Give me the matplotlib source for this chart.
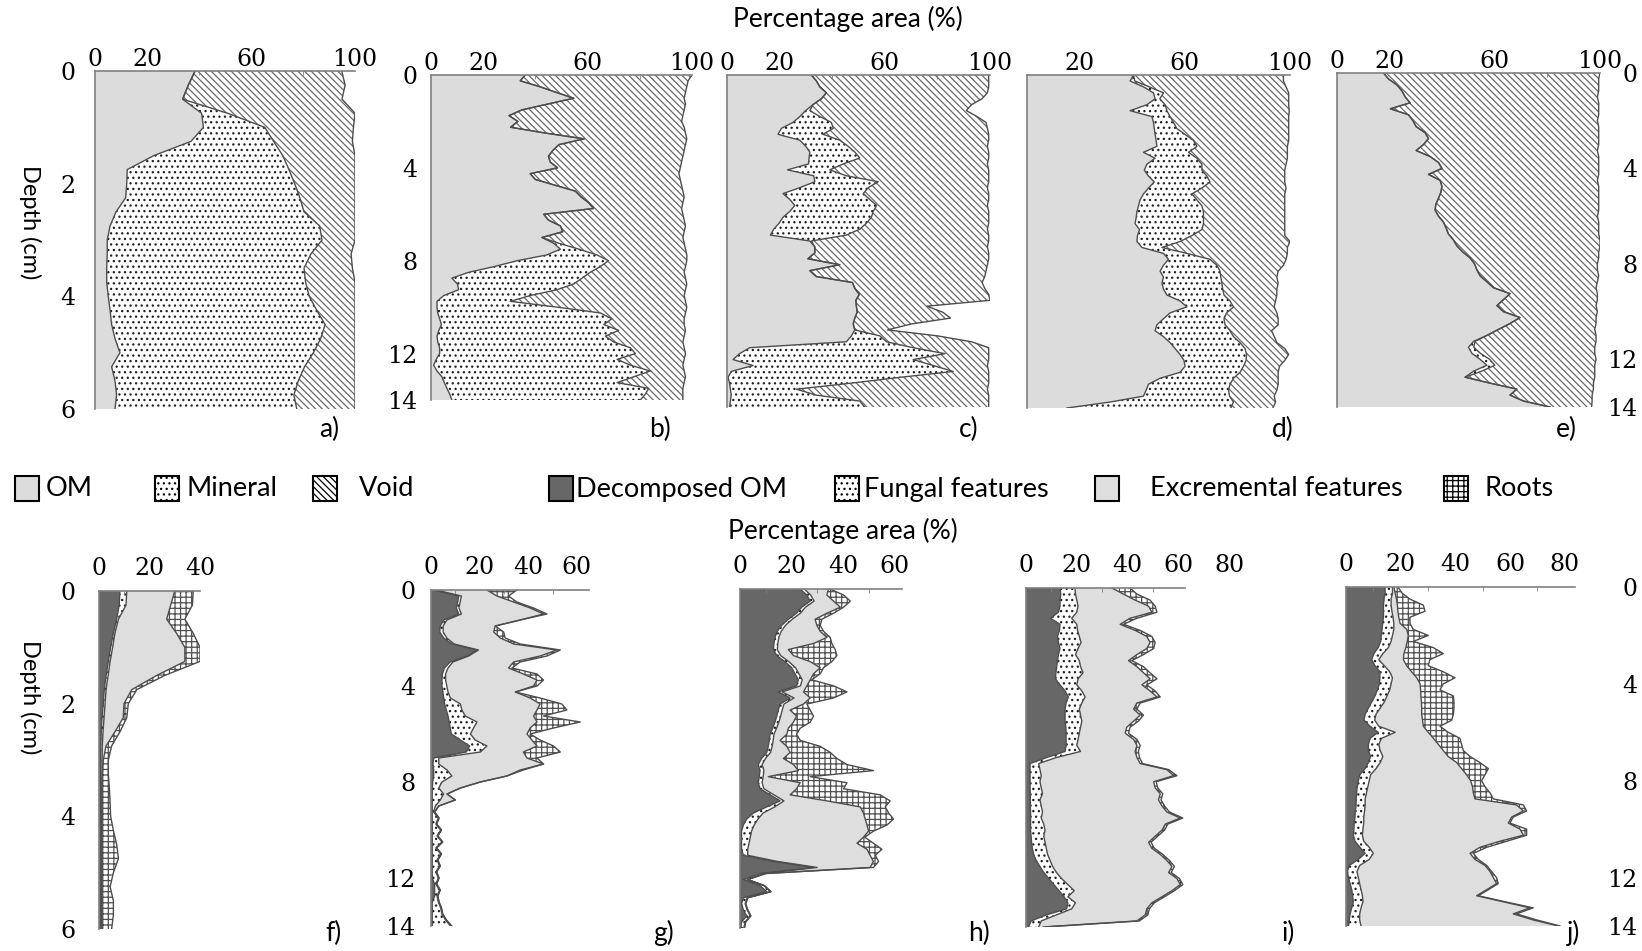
import numpy as np
import matplotlib.pyplot as plt
from matplotlib.patches import Rectangle

plt.rcParams['font.family'] = ['Lato', 'DejaVu Sans']
plt.rcParams['hatch.linewidth'] = 0.9

W, H = 1642, 951
NUM = 'DejaVu Serif'
LINE = '#4d4d4d'

# sampling depth (cm)
depth_6 = np.arange(0, 6.01, 0.25)
depth_14 = np.arange(0, 14.01, 0.25)

# ---------------- top row: cumulative right edge of OM, Mineral, Void (%)
a_om = [38.5, 35.9, 33.7, 41.0, 41.7, 36.9, 22.7, 12.4, 12.2, 11.8, 8.1, 5.8, 4.7, 4.7, 4.5,
        4.5, 5.1, 5.8, 6.4, 7.7, 9.6, 6.4, 7.7, 8.3, 7.7]
a_mineral = [38.5, 35.9, 33.7, 51.0, 65.3, 68.7, 72.2, 74.6, 76.8, 78.8, 80.4, 86.4, 87.3, 83.0,
             80.4, 81.0, 82.4, 85.3, 88.5, 86.8, 84.0, 80.6, 78.2, 76.5, 77.6]
a_void = [94.9, 96.2, 95.0, 100, 99.4, 99.0, 100, 100, 100, 100, 100, 100, 100, 98.5, 99.0,
          100, 100, 100, 100, 100, 100, 100, 100, 100, 100]

b_om = [36.1, 34.2, 41.6, 48.0, 54.7, 44.8, 34.9, 29.9, 33.3, 30.5, 43.8, 58.7, 49.0, 46.7, 45.0,
        45.7, 48.5, 38.0, 40.0, 47.6, 55.3, 57.5, 60.4, 62.3, 43.2, 45.0, 49.6, 50.5, 42.5, 47.0,
        49.6, 44.4, 33.0, 24.3, 14.4, 8.0, 10.1, 10.6, 4.9, 2.3, 2.3, 2.6, 3.3, 4.0, 3.0, 2.3,
        2.6, 3.3, 3.3, 2.0, 1.0, 2.3, 4.2, 5.1, 6.1, 7.2, 8.0]
b_mineral = [36.1, 34.2, 41.6, 48.0, 54.7, 44.8, 34.9, 29.9, 33.3, 30.5, 43.8, 58.7, 49.0, 46.7,
             45.0, 45.7, 48.5, 38.0, 40.0, 47.6, 55.3, 57.5, 60.4, 62.3, 43.2, 45.0, 49.6, 50.5,
             42.5, 49.0, 56.6, 63.6, 68.0, 64.9, 61.0, 57.9, 54.7, 48.3, 38.0, 30.4, 48.3, 64.9,
             69.3, 66.2, 71.9, 66.8, 70.0, 76.4, 78.3, 71.3, 76.4, 84.0, 77.7, 71.3, 83.4, 82.1, 80.2]
b_void = [100, 98.5, 98.0, 97.5, 97.0, 97.5, 97.0, 96.5, 96.0, 97.0, 97.5, 98.0, 97.5, 97.0, 96.5,
          96.0, 95.5, 95.0, 95.5, 96.0, 96.5, 97.0, 96.5, 96.0, 96.5, 97.0, 97.5, 97.0, 96.5, 97.0,
          97.5, 98.0, 98.0, 97.5, 97.0, 97.5, 98.0, 97.5, 97.0, 97.5, 98.0, 97.5, 97.0, 97.0, 97.5,
          97.0, 96.5, 97.0, 97.5, 97.0, 96.5, 97.0, 97.5, 97.0, 96.5, 96.5, 96.5]

c_om = [32.1, 34.0, 35.3, 37.8, 35.9, 32.7, 29.9, 27.7, 25.1, 20.7, 19.4, 27.7, 29.9, 31.5, 31.2,
        31.0, 23.0, 33.0, 33.4, 27.7, 21.3, 23.9, 25.8, 23.9, 21.3, 19.8, 17.8, 16.5, 31.5, 33.4,
        33.4, 30.8, 42.9, 31.5, 34.0, 47.7, 48.6, 50.3, 49.0, 49.2, 49.5, 48.6, 48.0, 48.6, 47.3,
        45.4, 8.6, 4.8, 2.3, 9.9, 1.6, 0.4, 1.0, 1.3, 1.6, 1.3, 1.0]
c_mineral = [32.1, 34.0, 35.3, 37.8, 35.9, 32.7, 31.5, 35.3, 39.7, 40.4, 36.5, 42.9, 46.0, 48.6,
             50.5, 44.2, 39.1, 45.4, 57.5, 53.7, 51.8, 54.3, 56.9, 55.6, 54.9, 53.0, 50.5, 45.4,
             32.1, 33.4, 33.4, 30.8, 42.9, 31.5, 34.0, 47.7, 48.6, 50.3, 49.0, 49.2, 49.5, 48.6,
             48.0, 48.6, 58.1, 60.7, 70.8, 82.9, 70.8, 78.4, 86.0, 65.7, 46.7, 26.4, 34.0, 50.5, 52.4]
c_void = [99.5, 99.5, 99.5, 99.0, 97.0, 93.0, 91.0, 95.0, 98.5, 99.0, 99.5, 99.5, 99.0, 99.5, 99.5,
          99.0, 99.5, 99.5, 99.5, 99.0, 99.5, 99.5, 99.0, 99.5, 99.5, 99.5, 99.0, 99.5, 99.5, 99.0,
          99.5, 99.5, 99.0, 98.5, 98.0, 97.0, 98.0, 99.5, 100, 76.0, 82.0, 85.0, 70.0, 61.0, 80.0,
          93.0, 99.5, 99.5, 99.5, 99.0, 99.5, 99.5, 99.5, 99.0, 99.5, 99.5, 99.5]

d_om = [40.5, 39.2, 44.3, 48.1, 48.7, 45.6, 39.2, 47.5, 48.1, 48.4, 48.7, 49.1, 49.4, 44.3, 48.7,
        45.6, 44.6, 46.2, 48.4, 46.2, 44.3, 43.0, 42.4, 41.8, 41.5, 41.1, 42.8, 42.0, 41.8, 43.7,
        51.9, 53.8, 51.9, 50.6, 51.9, 51.3, 51.9, 53.2, 58.2, 60.8, 54.4, 51.9, 49.4, 48.7, 51.9,
        54.4, 56.3, 58.2, 59.7, 60.1, 58.2, 50.6, 46.2, 45.3, 44.3, 31.6, 15.2]
d_mineral = [40.5, 41.0, 46.5, 51.9, 50.5, 52.5, 53.2, 54.4, 55.7, 57.0, 60.1, 63.3, 64.6, 61.4,
             64.6, 66.5, 66.5, 68.4, 69.6, 66.5, 62.7, 64.6, 66.5, 67.1, 67.1, 67.1, 66.5, 62.7,
             58.2, 51.3, 60.8, 69.6, 72.2, 73.4, 73.7, 74.1, 74.4, 74.9, 77.2, 78.5, 75.9, 74.9,
             75.3, 77.2, 78.5, 81.0, 82.9, 83.5, 83.3, 82.3, 81.0, 78.5, 77.2, 76.6, 77.0, 78.5, 77.5]
d_void = [97.5, 97.5, 98.5, 99.5, 99.5, 99.5, 99.7, 99.5, 99.5, 99.5, 99.5, 99.5, 99.0, 99.0, 99.0,
          98.5, 98.0, 98.0, 98.0, 98.5, 98.0, 98.0, 98.0, 98.0, 98.0, 98.0, 98.0, 98.0, 100, 99.0,
          99.0, 98.5, 97.5, 95.5, 95.0, 95.5, 95.0, 95.0, 94.5, 94.0, 95.0, 95.5, 95.5, 93.0, 94.0,
          95.0, 98.0, 99.5, 98.0, 96.0, 95.5, 95.5, 95.5, 95.0, 94.0, 94.5, 93.5]

e_om = [17.7, 19.6, 22.8, 24.7, 25.9, 27.8, 20.3, 27.2, 28.9, 30.1, 33.5, 34.8, 32.9, 30.1, 35.4,
        38.6, 39.9, 34.8, 39.2, 39.9, 39.5, 38.6, 37.6, 37.3, 38.6, 40.5, 41.5, 42.4, 44.3, 45.6,
        47.8, 50.6, 52.3, 53.2, 54.4, 57.0, 59.5, 65.8, 63.3, 60.8, 63.3, 69.6, 65.8, 61.4, 57.0,
        51.9, 50.0, 51.3, 54.4, 57.0, 51.9, 48.7, 58.2, 68.4, 65.8, 70.9, 81.0]
e_mineral = [17.7, 19.6, 22.8, 24.7, 25.9, 27.8, 20.3, 27.2, 28.9, 30.1, 33.5, 34.8, 32.9, 30.1,
             35.4, 38.6, 39.9, 34.8, 39.2, 39.9, 39.5, 38.6, 37.6, 37.3, 38.6, 40.5, 41.5, 42.4,
             44.3, 45.6, 47.8, 50.6, 52.3, 53.2, 54.4, 57.0, 59.5, 65.8, 63.3, 60.8, 63.3, 69.6,
             65.8, 61.4, 57.0, 52.5, 52.0, 54.5, 58.0, 60.0, 55.0, 48.7, 58.2, 68.4, 65.8, 70.9, 81.0]
e_void = [100, 99.5, 99.5, 99.5, 99.0, 99.5, 99.5, 99.5, 99.0, 99.5, 99.5, 99.5, 99.5, 99.0, 99.5,
          99.5, 99.5, 99.5, 99.0, 99.5, 99.5, 99.5, 99.5, 99.5, 99.0, 99.5, 99.5, 99.5, 100, 100,
          99.5, 99.5, 99.0, 99.0, 99.5, 99.0, 98.5, 99.0, 99.0, 98.5, 99.0, 98.5, 98.5, 98.0, 98.5,
          98.5, 98.0, 98.0, 98.5, 98.0, 98.0, 98.0, 97.5, 97.5, 97.0, 97.0, 96.8]

# ---------------- bottom row: cumulative right edge of Decomposed OM, Fungal, Excremental, Roots (%)
f_dom = [8.3, 8.0, 7.0, 5.7, 4.6, 3.7, 2.8, 2.1, 1.7, 1.2, 0.9, 0.7, 0.6, 0.6, 0.5, 0.5, 0.5,
         0.5, 0.5, 0.5, 0.5, 0.5, 0.5, 0.5, 0.5]
f_fungal = [11.0, 10.7, 7.7, 6.3, 5.4, 4.4, 3.6, 2.8, 2.4, 2.0, 1.6, 1.3, 1.2, 1.2, 1.1, 1.1, 1.1,
            1.1, 1.1, 1.1, 1.1, 1.1, 1.1, 1.1, 1.1]
f_excr = [30.0, 28.4, 26.8, 30.7, 34.0, 34.0, 22.8, 13.0, 9.9, 9.6, 6.3, 2.8, 1.7, 1.3, 1.2, 1.2,
          1.2, 1.2, 1.2, 1.2, 1.2, 1.2, 1.2, 1.2, 1.2]
f_roots = [37.3, 37.0, 34.0, 37.3, 40.0, 40.0, 26.0, 15.0, 11.6, 11.0, 8.3, 5.0, 3.7, 3.7, 4.1,
           4.4, 4.6, 5.7, 7.0, 7.7, 5.7, 4.4, 5.7, 5.7, 5.0]

g_dom = [1.1, 11.4, 11.0, 10.4, 11.4, 5.2, 3.8, 3.6, 5.2, 8.6, 18.9, 14.8, 7.9, 5.5, 4.7, 4.5,
         4.5, 4.9, 5.2, 5.6, 6.3, 7.0, 7.5, 7.9, 8.4, 12.1, 15.9, 14.5, 1.1, 0.8, 1.1, 1.1, 0.7,
         0.5, 0.5, 0.5, 0.5, 0.5, 0.5, 0.5, 0.5, 0.5, 0.5, 0.5, 0.5, 0.5, 0.5, 0.5, 0.5, 1.5, 1.5,
         1.5, 0.5, 0.5, 0.5, 0.5, 0.5]
g_fungal = [2.0, 12.5, 12.0, 11.5, 12.5, 6.5, 5.0, 5.0, 6.5, 9.5, 19.5, 15.5, 9.0, 7.0, 6.0, 6.0,
            6.5, 7.0, 8.0, 12.1, 12.7, 14.1, 18.9, 17.5, 16.2, 18.2, 23.0, 20.3, 3.2, 3.2, 6.6,
            8.6, 4.5, 3.2, 5.2, 3.8, 1.8, 1.1, 3.0, 2.0, 4.0, 2.5, 4.5, 2.0, 4.0, 2.5, 3.5, 2.0,
            3.0, 2.0, 3.5, 2.5, 3.0, 4.0, 4.5, 6.0, 8.0]
g_excr = [23.0, 27.1, 34.0, 40.8, 46.3, 36.7, 26.4, 25.8, 28.5, 34.0, 51.8, 44.9, 34.0, 31.9, 38.0,
          43.6, 42.2, 34.7, 40.8, 44.9, 43.6, 42.2, 43.6, 40.8, 39.5, 41.5, 43.6, 38.0, 39.5, 46.3,
          36.7, 31.2, 20.3, 12.1, 6.6, 10.0, 3.2, 1.5, 3.3, 2.3, 4.3, 2.8, 4.8, 2.3, 4.3, 2.8, 3.8,
          2.3, 3.3, 2.3, 3.8, 2.8, 3.3, 4.3, 4.8, 6.3, 8.5]
g_roots = [35.3, 31.9, 35.3, 42.2, 47.7, 36.7, 26.4, 29.9, 30.5, 36.7, 53.2, 47.7, 36.7, 33.3,
           43.6, 46.3, 43.6, 34.7, 44.9, 53.8, 55.9, 46.3, 61.4, 50.4, 40.8, 44.9, 50.4, 53.2,
           43.6, 46.3, 38.0, 31.2, 20.3, 12.1, 6.6, 10.0, 3.2, 1.5, 3.3, 2.3, 4.3, 2.8, 4.8, 2.3,
           4.3, 2.8, 3.8, 2.3, 3.3, 2.3, 3.8, 2.8, 3.3, 4.3, 4.8, 6.3, 8.5]

h_dom = [23.4, 26.0, 27.3, 24.0, 22.0, 18.8, 16.2, 14.5, 13.6, 13.2, 13.0, 14.3, 17.5, 20.1, 21.4,
         22.7, 22.0, 14.9, 19.5, 15.6, 14.9, 14.3, 13.6, 12.7, 11.7, 11.4, 11.0, 10.4, 8.4, 7.1,
         7.8, 7.5, 7.1, 7.8, 11.7, 15.6, 10.4, 5.2, 2.6, 1.3, 0.6, 0.6, 0.6, 0.6, 1.3, 13.0, 28.6,
         7.8, 1.3, 7.8, 10.4, 1.3, 0.6, 1.3, 2.6, 0.6, 0.3]
h_fungal = [25.0, 27.5, 28.8, 25.5, 23.5, 20.3, 17.7, 16.0, 15.1, 14.7, 14.5, 15.8, 19.0, 21.6,
            22.9, 24.2, 23.5, 16.4, 21.0, 17.1, 16.4, 15.8, 15.1, 14.2, 13.2, 12.9, 12.5, 11.9,
            9.9, 8.6, 9.3, 9.0, 8.6, 9.3, 13.2, 17.1, 13.5, 9.0, 7.0, 5.5, 4.5, 4.0, 3.5, 3.0, 3.0,
            14.5, 30.0, 9.3, 2.8, 9.3, 11.9, 2.8, 2.0, 2.8, 4.0, 2.0, 1.5]
h_excr = [34.4, 33.8, 36.4, 39.0, 33.8, 29.2, 29.9, 31.2, 33.8, 28.6, 18.8, 20.8, 27.3, 31.2, 28.6,
          27.3, 26.0, 24.7, 27.3, 24.7, 19.5, 22.0, 20.8, 18.8, 18.2, 15.6, 18.2, 19.5, 16.9, 20.8,
          22.7, 11.0, 23.4, 22.0, 19.5, 33.8, 46.8, 48.0, 48.7, 49.4, 50.0, 48.0, 45.5, 49.4, 50.6,
          51.9, 50.6, 10.0, 3.0, 9.5, 12.0, 3.0, 2.2, 3.0, 4.2, 2.2, 1.7]
h_roots = [35.0, 40.3, 42.9, 40.3, 36.4, 31.8, 31.2, 32.5, 35.1, 35.7, 37.0, 37.7, 35.7, 32.5,
           31.2, 27.9, 36.4, 41.6, 36.4, 26.0, 27.3, 28.6, 27.3, 23.4, 22.0, 23.4, 31.2, 35.1,
           37.7, 41.6, 51.9, 27.3, 41.6, 40.3, 54.5, 58.4, 56.5, 57.8, 59.7, 57.1, 51.9, 48.5,
           51.9, 55.2, 52.6, 53.9, 51.9, 10.0, 3.0, 9.5, 12.0, 3.0, 2.2, 3.0, 4.2, 2.2, 1.7]

i_dom = [13.4, 13.7, 13.4, 13.4, 12.8, 9.7, 13.4, 13.2, 12.4, 12.8, 13.4, 12.8, 12.4, 12.1, 11.8,
         11.6, 13.4, 15.4, 16.7, 15.8, 15.4, 15.4, 15.4, 15.7, 15.8, 15.8, 15.8, 15.4, 8.2, 1.6,
         1.6, 1.6, 1.6, 1.6, 1.7, 1.7, 1.7, 1.8, 1.8, 1.8, 1.8, 2.0, 2.2, 2.5, 3.0, 4.0, 5.5, 7.0,
         9.0, 11.0, 13.0, 15.0, 16.5, 16.0, 8.0, 2.0, 1.0]
i_fungal = [19.3, 19.5, 20.0, 20.5, 20.0, 18.0, 20.0, 20.3, 21.0, 21.7, 20.5, 19.5, 21.0, 21.5,
            22.5, 20.5, 20.0, 22.0, 23.3, 22.0, 21.0, 21.5, 22.0, 21.5, 21.0, 20.5, 20.0, 21.5,
            12.0, 5.0, 5.5, 6.0, 5.5, 6.0, 6.5, 5.5, 6.0, 6.5, 6.0, 7.0, 7.5, 7.0, 7.5, 8.0, 8.5,
            9.5, 10.5, 12.0, 14.0, 16.5, 19.0, 16.5, 19.5, 18.0, 12.0, 6.0, 5.0]
i_excr = [33.8, 38.4, 43.0, 48.3, 49.6, 41.0, 37.1, 43.0, 47.6, 48.9, 47.6, 43.7, 40.4, 43.7, 46.3,
          48.9, 45.7, 48.9, 51.6, 43.7, 42.4, 45.0, 42.4, 39.7, 39.1, 42.4, 43.7, 43.0, 43.7, 45.0,
          55.5, 58.2, 50.3, 50.9, 52.9, 52.2, 53.6, 55.5, 60.8, 54.9, 53.6, 50.9, 48.3, 49.6, 52.9,
          55.5, 57.5, 56.2, 59.5, 60.8, 57.5, 53.6, 49.6, 47.6, 47.0, 43.7, 6.8]
i_roots = [41.0, 43.7, 48.9, 50.9, 51.6, 43.7, 38.4, 45.0, 49.6, 50.9, 50.3, 46.3, 41.7, 46.3,
           48.9, 51.6, 47.6, 50.9, 52.9, 45.0, 43.7, 46.3, 44.3, 41.0, 40.4, 43.7, 45.0, 44.3,
           44.7, 45.9, 56.2, 59.5, 51.3, 51.9, 53.9, 53.2, 54.6, 56.5, 61.8, 55.9, 54.6, 51.9,
           49.3, 50.6, 53.9, 56.5, 58.5, 57.2, 60.5, 61.8, 58.5, 54.6, 50.6, 48.6, 48.0, 44.7, 7.0]

j_dom = [14.3, 14.3, 13.9, 13.7, 13.7, 13.7, 13.4, 13.2, 12.9, 12.7, 11.8, 10.2, 9.4, 10.6, 12.4,
         12.4, 12.2, 11.5, 10.6, 9.4, 8.2, 7.0, 6.6, 8.8, 11.8, 8.8, 8.2, 8.2, 9.0, 8.2, 7.0, 5.1,
         4.5, 4.1, 3.9, 3.7, 3.7, 3.4, 3.3, 3.0, 2.9, 2.7, 3.3, 5.1, 7.0, 4.5, 1.2, 0.5, 0.9, 1.5,
         2.1, 2.4, 2.7, 2.1, 1.5, 1.2, 0.9]
j_fungal = [17.0, 17.0, 16.5, 16.5, 16.8, 17.2, 17.5, 17.5, 17.0, 16.5, 15.5, 13.5, 12.0, 14.0,
            16.0, 17.0, 16.5, 16.0, 15.0, 14.0, 12.5, 11.0, 10.5, 12.0, 18.0, 13.0, 12.0, 12.5,
            13.5, 12.5, 11.0, 9.0, 8.5, 8.0, 7.5, 7.0, 7.0, 6.8, 6.5, 6.5, 6.2, 6.0, 6.5, 8.5, 10.0,
            8.5, 5.0, 4.0, 4.5, 5.0, 5.5, 6.0, 6.2, 5.5, 5.0, 5.0, 5.5]
j_excr = [17.5, 18.0, 18.5, 18.8, 19.0, 19.3, 19.8, 22.2, 22.8, 22.4, 21.9, 21.2, 21.0, 22.2, 24.0,
          25.9, 27.1, 27.3, 27.4, 27.6, 27.7, 27.7, 28.0, 28.3, 30.1, 32.0, 33.8, 35.6, 37.4, 40.5,
          42.3, 44.1, 45.6, 46.3, 46.6, 47.2, 62.4, 64.9, 60.6, 59.4, 63.7, 64.9, 56.3, 49.0, 45.4,
          47.2, 50.9, 52.7, 53.9, 55.1, 51.5, 47.8, 57.6, 67.3, 61.2, 68.5, 77.7]
j_roots = [19.0, 20.5, 23.4, 28.3, 28.9, 23.4, 23.4, 24.6, 30.1, 24.6, 31.9, 35.6, 30.7, 30.1,
           35.6, 39.9, 35.6, 34.4, 39.3, 39.5, 39.5, 39.3, 38.7, 34.4, 37.4, 41.7, 42.3, 42.9,
           45.4, 49.0, 52.1, 50.9, 49.6, 50.9, 52.7, 53.9, 64.9, 66.1, 61.2, 60.0, 66.1, 66.1,
           58.8, 51.5, 46.6, 48.4, 51.5, 53.3, 55.1, 55.7, 52.1, 48.4, 58.2, 68.5, 62.4, 69.8, 78.3]

# fill styles: (facecolor, hatch, hatch colour)
om_style = ('#dcdcdc', None, 'none')
mineral_style = ('white', '...', '#202020')
void_style = ('white', '\\\\\\\\\\', '#6a6a6a')
dom_style = ('#676767', None, 'none')
fungal_style = ('white', '...', '#202020')
excr_style = ('#dedede', None, 'none')
roots_style = ('white', '+++', '#505050')

top_styles = [om_style, mineral_style, void_style]
bottom_styles = [dom_style, fungal_style, excr_style, roots_style]

fig = plt.figure(figsize=(W / 100, H / 100), dpi=100)


def panel(px, xmax, depth, edges, styles, xlabels, minor, ymax,
          yticks=None, yside='left', ypad=10, xpad=0, spine_end=None):
    x0, y0, x1, y1 = px
    ax = fig.add_axes([x0 / W, 1 - y1 / H, (x1 - x0) / W, (y1 - y0) / H])
    lower = np.zeros(len(depth))
    for edge, (fc, hatch, hc) in zip(edges, styles):
        edge = np.asarray(edge, dtype=float)
        ax.fill_betweenx(depth, lower, edge, facecolor=fc, hatch=hatch,
                         edgecolor=hc, linewidth=0)
        ax.plot(edge, depth, color=LINE, lw=1)
        lower = edge
    ax.set_xlim(0, xmax)
    ax.set_ylim(ymax, 0)
    for s in ['right', 'bottom']:
        ax.spines[s].set_visible(False)
    for s in ['top', 'left']:
        ax.spines[s].set_color('#808080')
        ax.spines[s].set_linewidth(1.2)
    if spine_end is not None:
        ax.spines['top'].set_bounds(0, spine_end)
    ax.xaxis.tick_top()
    ax.set_xticks([v for v, _ in xlabels])
    ax.set_xticklabels([t for _, t in xlabels], family=NUM, fontsize=17)
    ax.set_xticks(minor, minor=True)
    ax.tick_params(axis='x', which='major', length=0, pad=xpad)
    ax.tick_params(axis='x', which='minor', length=3, direction='in', color='#808080')
    if yticks is None:
        ax.set_yticks([])
    else:
        ax.set_yticks(yticks)
        ax.set_yticklabels([str(t) for t in yticks], family=NUM, fontsize=17)
        if yside == 'right':
            ax.yaxis.tick_right()
            for t in ax.yaxis.get_major_ticks():
                t.label2.set_horizontalalignment('right')
        ax.tick_params(axis='y', length=0, pad=ypad)
    return ax


top_lab = [(0, '0'), (20, '20'), (60, '60'), (100, '100')]
top_min = [20, 40, 60, 80]
d14 = [0, 4, 8, 12, 14]

panel((95, 71, 355, 409), 100, depth_6, [a_om, a_mineral, a_void], top_styles, top_lab,
      top_min, 6, yticks=[0, 2, 4, 6], ypad=14)
panel((431, 75, 692, 400), 100, depth_14, [b_om, b_mineral, b_void], top_styles, top_lab,
      top_min, 14, yticks=d14, ypad=10)
panel((727, 75, 990, 407), 100, depth_14, [c_om, c_mineral, c_void], top_styles, top_lab,
      top_min, 14)
panel((1027, 75, 1290, 408), 100, depth_14, [d_om, d_mineral, d_void], top_styles,
      top_lab[1:], top_min, 14)
panel((1337, 73, 1600, 407), 100, depth_14, [e_om, e_mineral, e_void], top_styles, top_lab,
      top_min, 14, yticks=d14, yside='right', ypad=27)

lab40 = [(0, '0'), (20, '20'), (40, '40')]
lab60 = lab40 + [(60, '60')]
lab80 = lab60 + [(80, '80')]

panel((99, 591, 200, 929), 40, depth_6, [f_dom, f_fungal, f_excr, f_roots], bottom_styles,
      lab40, [10, 20, 30], 6, yticks=[0, 2, 4, 6], ypad=17, xpad=8)
panel((431, 590, 589, 926), 65, depth_14, [g_dom, g_fungal, g_excr, g_roots], bottom_styles,
      lab60, [10, 20, 30, 40, 50, 60], 14, yticks=d14, ypad=11, xpad=8)
panel((740, 589, 902, 928), 63, depth_14, [h_dom, h_fungal, h_excr, h_roots], bottom_styles,
      lab60, [10, 20, 30, 40, 50, 60], 14, xpad=8)
panel((1026, 588, 1229, 927), 80, depth_14, [i_dom, i_fungal, i_excr, i_roots], bottom_styles,
      lab80, [10, 20, 30, 40, 50, 60], 14, xpad=8, spine_end=62.7)
panel((1346, 587, 1575, 926), 83.8, depth_14, [j_dom, j_fungal, j_excr, j_roots],
      bottom_styles, lab80, [10, 20, 30, 40, 50, 60, 70, 80], 14, yticks=d14,
      yside='right', ypad=45, xpad=8)

# axis titles
fig.text(848 / W, 1 - 19 / H, 'Percentage area (%)', ha='center', va='center', fontsize=19)
fig.text(843 / W, 1 - 531 / H, 'Percentage area (%)', ha='center', va='center', fontsize=19)
fig.text(30 / W, 1 - 222 / H, 'Depth (cm)', rotation=-90, ha='center', va='center', fontsize=17)
fig.text(30 / W, 1 - 697 / H, 'Depth (cm)', rotation=-90, ha='center', va='center', fontsize=17)

# panel letters
letters = ['a)', 'b)', 'c)', 'd)', 'e)', 'f)', 'g)', 'h)', 'i)', 'j)']
letter_x = [329, 660, 969, 1283, 1566, 333, 663, 979, 1288, 1574]
letter_y = [429] * 5 + [933] * 5
for s, x, y in zip(letters, letter_x, letter_y):
    fig.text(x / W, 1 - y / H, s, ha='center', va='center', fontsize=19)

# legend row: (label, patch left, text left, style) in pixels
legend_items = [
    ('OM', 15, 46, om_style),
    ('Mineral', 155, 186, mineral_style),
    ('Void', 313, 359, void_style),
    ('Decomposed OM', 549, 576, dom_style),
    ('Fungal features', 835, 864, fungal_style),
    ('Excremental features', 1095, 1150, excr_style),
    ('Roots', 1444, 1484, roots_style),
]
for name, bx, tx, (fc, hatch, hc) in legend_items:
    fig.add_artist(Rectangle((bx / W, 1 - 501 / H), 24 / W, 25 / H, transform=fig.transFigure,
                             facecolor=fc, hatch=hatch, edgecolor='black', linewidth=1.5))
    fig.text(tx / W, 1 - 489 / H, name, ha='left', va='center', fontsize=19.5)

fig.savefig('out.png', dpi=100)
